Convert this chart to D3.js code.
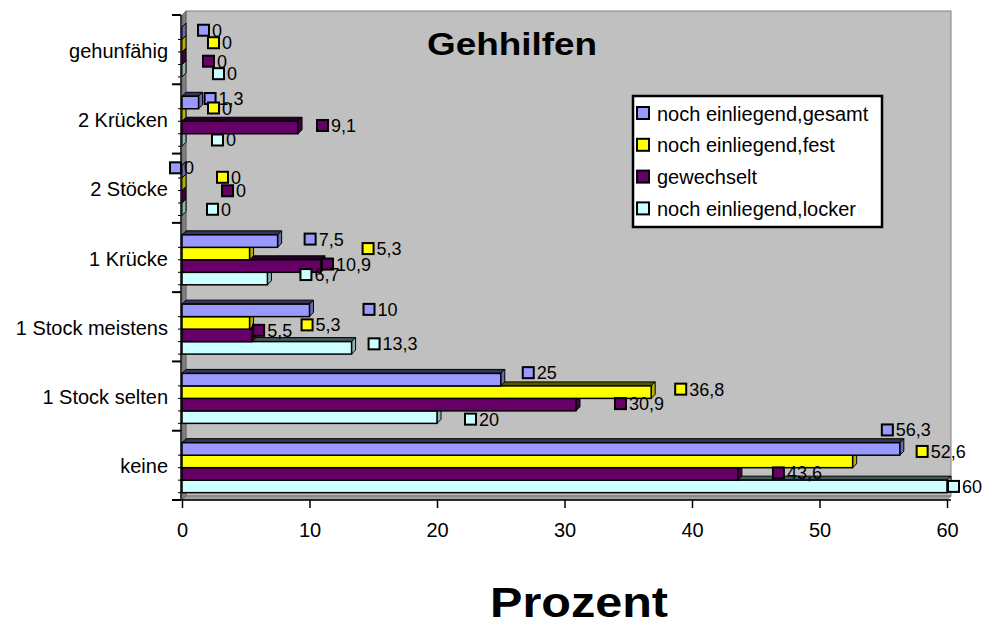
<!DOCTYPE html>
<html>
<head>
<meta charset="utf-8">
<script src="https://d3js.org/d3.v7.min.js"></script>
<style>
  body { margin: 0; background: #fff; }
  svg text { font-family: "Liberation Sans", Arial, sans-serif; fill: #000; }
</style>
</head>
<body>
<script>
// categories top to bottom
var categories = ["gehunfähig", "2 Krücken", "2 Stöcke", "1 Krücke", "1 Stock meistens", "1 Stock selten", "keine"];
var seriesNames = ["noch einliegend,gesamt", "noch einliegend,fest", "gewechselt", "noch einliegend,locker"];
var gesamt     = [0, 1.3, 0, 7.5, 10, 25, 56.3];
var fest       = [0, 0, 0, 5.3, 5.3, 36.8, 52.6];
var gewechselt = [0, 9.1, 0, 10.9, 5.5, 30.9, 43.6];
var locker     = [0, 0, 0, 6.7, 13.3, 20, 60];
var xTicks = [0, 10, 20, 30, 40, 50, 60];
var colors = ["#9999ff", "#ffff00", "#660066", "#ccffff"];

// label nudges (px) the way labels sit in the original, [dx, dy] per series
var labelNudge = [
  [[16, -3], [26, -3], [21, 3], [31, 3]],
  [[6, -4], [26, -7], [19, -2], [30, 0]],
  [[-12, -4], [35, -7], [40, -6], [25, 0]],
  [[27, -2], [113, -5], [1, -2], [33, -4]],
  [[54, -1], [52, 2], [1, -5], [17, -4]],
  [[22, -7], [24, -3], [39, -1], [28, 2]],
  [[-18, -19], [64, -10], [35, -1], [1, 0]]
];

var values = [gesamt, fest, gewechselt, locker];
var fmt = function(v) { return String(v).replace(".", ","); };

var W = 985, H = 625;
var X0 = 182, X1 = 947, Y0 = 15, Y1 = 500, depth = 4;

var svg = d3.select("body").append("svg")
  .attr("width", W).attr("height", H);

var x = d3.scaleLinear().domain([0, 60]).range([X0, X1]);
var y = d3.scaleBand().domain(categories).range([Y0, Y1]);
var bw = y.bandwidth();
var ySub = d3.scaleBand().domain(seriesNames).range([bw * 0.173, bw * 0.894]);
var bh = ySub.bandwidth();

// walls
svg.append("rect")
  .attr("x", X0 + depth).attr("y", Y0 - depth)
  .attr("width", X1 - X0).attr("height", Y1 - Y0)
  .attr("fill", "#c0c0c0").attr("stroke", "#808080").attr("stroke-width", 1);
svg.append("polygon")
  .attr("points", [[X0, Y0], [X0 + depth, Y0 - depth], [X0 + depth, Y1 - depth], [X0, Y1]].join(" "))
  .attr("fill", "#808080").attr("stroke", "#404040").attr("stroke-width", 0.5);
svg.append("polygon")
  .attr("points", [[X0, Y1], [X0 + depth, Y1 - depth], [X1 + depth, Y1 - depth], [X1, Y1]].join(" "))
  .attr("fill", "#a0a0a0").attr("stroke", "#404040").attr("stroke-width", 0.5);

// bars, lower series first so upper fronts cover lower tops
var barG = svg.append("g");
categories.forEach(function(cat, ci) {
  for (var si = seriesNames.length - 1; si >= 0; si--) {
    var v = values[si][ci];
    var yt = y(cat) + ySub(seriesNames[si]);
    var xe = x(v);
    var c = d3.color(colors[si]);
    var g = barG.append("g");
    g.append("polygon")
      .attr("points", [[X0, yt], [X0 + depth, yt - depth], [xe + depth, yt - depth], [xe, yt]].join(" "))
      .attr("fill", c.darker(3).formatHex()).attr("stroke", "#000").attr("stroke-width", 1);
    g.append("polygon")
      .attr("points", [[xe, yt], [xe + depth, yt - depth], [xe + depth, yt + bh - depth], [xe, yt + bh]].join(" "))
      .attr("fill", c.darker(1).formatHex()).attr("stroke", "#000").attr("stroke-width", 1);
    g.append("rect")
      .attr("x", X0).attr("y", yt)
      .attr("width", xe - X0).attr("height", bh)
      .attr("fill", colors[si]).attr("stroke", "#000").attr("stroke-width", 1.5);
  }
});

// y axis
svg.append("line")
  .attr("x1", X0 - 1).attr("x2", X0 - 1).attr("y1", Y0).attr("y2", Y1)
  .attr("stroke", "#000").attr("stroke-width", 1.5);
var bounds = categories.map(function(c) { return y(c); }).concat([Y1]);
svg.selectAll(".ytick").data(bounds).enter().append("line")
  .attr("x1", X0 - 10).attr("x2", X0 - 1)
  .attr("y1", function(d) { return d; }).attr("y2", function(d) { return d; })
  .attr("stroke", "#000").attr("stroke-width", 2);
categories.forEach(function(cat) {
  seriesNames.forEach(function(s) {
    var yy = y(cat) + ySub(s) + bh;
    svg.append("line").attr("x1", X0 - 4).attr("x2", X0 - 1)
      .attr("y1", yy).attr("y2", yy).attr("stroke", "#000").attr("stroke-width", 1);
  });
});
svg.selectAll(".ylab").data(categories).enter().append("text")
  .attr("x", X0 - 14)
  .attr("y", function(d) { return y(d) + bw / 2 + 8; })
  .attr("text-anchor", "end")
  .style("font-size", "20px")
  .text(function(d) { return d; });

// x axis
var xAxis = d3.axisBottom(x).tickValues(xTicks).tickSize(8).tickSizeOuter(0).tickFormat(fmt);
var gx = svg.append("g").attr("transform", "translate(0," + Y1 + ")").call(xAxis);
gx.select(".domain").attr("stroke-width", 1.5).attr("d", "M" + (X0 - 1) + ",0H" + (X1 + depth));
gx.selectAll(".tick line").attr("stroke-width", 1.5);
gx.selectAll(".tick text")
  .attr("y", 23)
  .style("font-size", "20px")
  .style("font-family", "'Liberation Sans', Arial, sans-serif");

// value labels
var labG = svg.append("g");
categories.forEach(function(cat, ci) {
  seriesNames.forEach(function(s, si) {
    var v = values[si][ci];
    var n = labelNudge[ci][si];
    var mx = x(v) + n[0];
    var my = y(cat) + ySub(s) + bh / 2 + n[1];
    labG.append("rect")
      .attr("x", mx).attr("y", my - 5.5)
      .attr("width", 11).attr("height", 11)
      .attr("fill", colors[si]).attr("stroke", "#000").attr("stroke-width", 2);
    labG.append("text")
      .attr("x", mx + 14).attr("y", my + 6.5)
      .style("font-size", "18px")
      .text(fmt(v));
  });
});

// title
svg.append("text")
  .attr("x", 512).attr("y", 55)
  .attr("text-anchor", "middle")
  .attr("textLength", 170).attr("lengthAdjust", "spacingAndGlyphs")
  .style("font-size", "32px").style("font-weight", "bold")
  .text("Gehhilfen");

// legend
var lg = svg.append("g").attr("transform", "translate(633,96)");
lg.append("rect").attr("width", 249).attr("height", 131)
  .attr("fill", "#fff").attr("stroke", "#000").attr("stroke-width", 2.5);
seriesNames.forEach(function(s, i) {
  var cy = 17 + i * 31.8;
  lg.append("rect").attr("x", 4).attr("y", cy - 6)
    .attr("width", 12).attr("height", 12)
    .attr("fill", colors[i]).attr("stroke", "#000").attr("stroke-width", 2);
  lg.append("text").attr("x", 24).attr("y", cy + 7.5)
    .style("font-size", "20px")
    .text(s);
});

// axis title
svg.append("text")
  .attr("x", 579).attr("y", 617)
  .attr("text-anchor", "middle")
  .attr("textLength", 178).attr("lengthAdjust", "spacingAndGlyphs")
  .style("font-size", "43px").style("font-weight", "bold")
  .text("Prozent");
</script>
</body>
</html>
